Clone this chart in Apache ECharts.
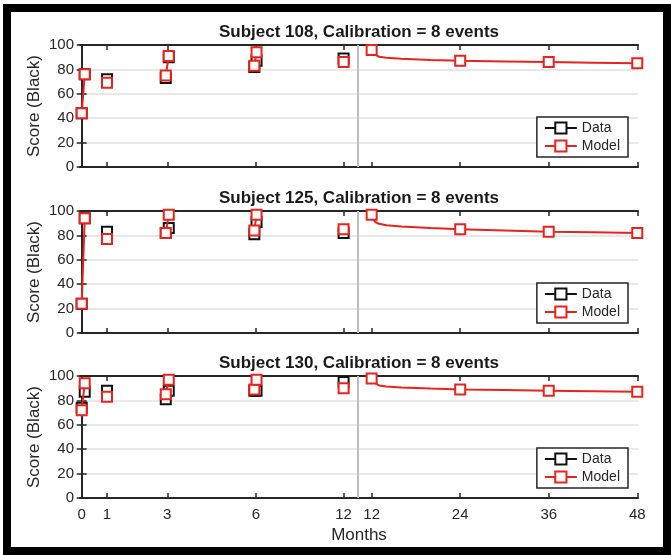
<!DOCTYPE html>
<html>
<head>
<meta charset="utf-8">
<style>
  html, body { margin: 0; padding: 0; background: #fff; }
  #chart { width: 671px; height: 555px; }
</style>
<script src="https://cdn.jsdelivr.net/npm/echarts@6/dist/echarts.min.js"></script>
</head>
<body>
<div id="chart"></div>
<script>
// 数据
const subjects = ['108', '125', '130']
// calibration events (months), two events close together at 0, 3 and 6
const eventMonths = [0, 0.12, 1, 2.95, 3.05, 5.95, 6.05, 12]
const dataScores = [
  [44, 76, 72, 73, 90, 82, 87, 89],
  [24, 94, 83, 82, 86, 81, 91, 82],
  [74, 87, 88, 81, 88, 88, 88, 95]
]
const modelScores = [
  [44, 76, 69, 75, 91, 83, 94, 86],
  [24, 94, 77, 82, 97, 84, 97, 85],
  [72, 94, 83, 85, 97, 89, 97, 90]
]
// model prediction after calibration
const curveMonths = [12, 12.25, 12.5, 13, 14, 16, 20, 24, 30, 36, 42, 48]
const curveScores = [
  [96, 93, 91.5, 90.3, 89.5, 88.8, 87.8, 87, 86.5, 86, 85.5, 85],
  [97, 93, 91, 89.5, 88.3, 87.2, 86, 85, 84, 83, 82.5, 82],
  [98, 95, 93.5, 92.2, 91.3, 90.5, 89.7, 89, 88.5, 88, 87.5, 87]
]
const markerMonths = [12, 24, 36, 48]
const leftTickMonths = [0, 1, 3, 6, 12]
const rightTickMonths = [12, 24, 36, 48]
const yTicks = [0, 20, 40, 60, 80, 100]

// 坐标轴布局 (broken axis: calibration part | prediction part)
const leftTickUnits = [0, 3.43, 11.6, 23.6, 35.5]
const rightOffset = 27.3
const breakUnit = 37.4
const gridTops = [45, 211, 376]
const gridHeight = 122
const red = '#e8231d'
const ink = '#262626'
const font = 'Liberation Sans, Arial, Helvetica, sans-serif'

const leftUnit = (m) => {
  for (let i = 0; i < leftTickMonths.length - 1; i++) {
    const a = leftTickMonths[i]
    const b = leftTickMonths[i + 1]
    if (m <= b) {
      return leftTickUnits[i] + (m - a) / (b - a) * (leftTickUnits[i + 1] - leftTickUnits[i])
    }
  }
  return leftTickUnits[leftTickUnits.length - 1]
}
const rightUnit = (m) => m + rightOffset

const tickUnits = leftTickMonths.map(leftUnit).concat(rightTickMonths.map(rightUnit))
const tickLabels = leftTickMonths.concat(rightTickMonths).map(String)
const labelFor = (v) => {
  const i = tickUnits.findIndex((u) => Math.abs(u - v) < 0.01)
  return i < 0 ? '' : tickLabels[i]
}

const grid = gridTops.map((t) => ({ left: 80, right: 33, top: t, height: gridHeight }))

const xAxis = []
const yAxis = []
gridTops.forEach((t, i) => {
  const base = {
    type: 'value',
    gridIndex: i,
    min: -0.23,
    max: 75.4,
    axisLine: { show: true, onZero: false, lineStyle: { color: ink, width: 2 } },
    axisTick: { show: true, inside: true, length: 5, customValues: tickUnits, lineStyle: { color: ink, width: 1.5 } },
    splitLine: { show: false }
  }
  xAxis.push({
    ...base,
    position: 'bottom',
    axisLabel: { show: i === 2, customValues: tickUnits, formatter: labelFor, margin: 9, fontSize: 15, color: ink, fontFamily: font },
    name: i === 2 ? 'Months' : '',
    nameLocation: 'middle',
    nameGap: 29,
    nameMoveOverlap: false,
    nameTextStyle: { fontSize: 17, color: ink, fontFamily: font }
  })
  xAxis.push({ ...base, position: 'top', axisLabel: { show: false } })

  const yBase = {
    type: 'value',
    gridIndex: i,
    min: 0,
    max: 100,
    interval: 20,
    axisLine: { show: true, lineStyle: { color: ink, width: 2 } },
    axisTick: { show: true, inside: true, length: 5, lineStyle: { color: ink, width: 1.5 } }
  }
  yAxis.push({
    ...yBase,
    position: 'left',
    axisLabel: { margin: 6, fontSize: 15, color: ink, fontFamily: font, customValues: yTicks },
    splitLine: { show: true, lineStyle: { color: '#e0e0e0', width: 1.5 } },
    name: 'Score (Black)',
    nameLocation: 'middle',
    nameGap: 37,
    nameMoveOverlap: false,
    nameTextStyle: { fontSize: 17, color: ink, fontFamily: font }
  })
  yAxis.push({ ...yBase, position: 'right', axisLabel: { show: false }, splitLine: { show: false } })
})

const series = []
gridTops.forEach((t, i) => {
  const axes = { xAxisIndex: i * 2, yAxisIndex: i * 2 }
  // 测量值
  series.push({
    name: 'Data',
    type: 'line',
    ...axes,
    data: eventMonths.map((m, k) => [leftUnit(m), dataScores[i][k]]),
    symbol: 'emptyRect',
    symbolSize: 10,
    itemStyle: { color: '#111', borderWidth: 2 },
    lineStyle: { opacity: 0 },
    z: 2,
    silent: true,
    markLine: {
      silent: true,
      symbol: ['none', 'none'],
      label: { show: false },
      lineStyle: { color: '#bdbdbd', width: 2, type: 'solid' },
      data: [{ xAxis: breakUnit }]
    }
  })
  // 模型 (calibration part, jumps at close events joined)
  const modelLeft = []
  eventMonths.forEach((m, k) => {
    if (k > 0 && m - eventMonths[k - 1] > 0.5) modelLeft.push([leftUnit(m) - 0.5, '-'])
    modelLeft.push([leftUnit(m), modelScores[i][k]])
  })
  series.push({
    name: 'Model',
    type: 'line',
    ...axes,
    data: modelLeft,
    symbol: 'emptyRect',
    symbolSize: 10,
    itemStyle: { color: red, borderWidth: 2 },
    lineStyle: { color: red, width: 2 },
    z: 3,
    silent: true
  })
  // 模型预测
  series.push({
    name: 'Model',
    type: 'line',
    ...axes,
    data: curveMonths.map((m, k) => ({
      value: [rightUnit(m), curveScores[i][k]],
      symbol: markerMonths.includes(m) ? 'emptyRect' : 'none'
    })),
    symbol: 'emptyRect',
    symbolSize: 10,
    itemStyle: { color: red, borderWidth: 2 },
    lineStyle: { color: red, width: 2 },
    z: 3,
    silent: true
  })
})

const title = gridTops.map((t, i) => ({
  text: 'Subject ' + subjects[i] + ', Calibration = 8 events',
  left: 359,
  top: t - 21,
  textAlign: 'center',
  padding: 0,
  textStyle: { fontSize: 17, fontWeight: 'bold', color: '#1a1a1a', fontFamily: font }
}))

const legend = gridTops.map((t) => ({
  orient: 'vertical',
  right: 43,
  top: t + gridHeight - 50,
  data: [
    { name: 'Data', lineStyle: { opacity: 1, width: 2, color: '#111' } },
    { name: 'Model' }
  ],
  itemWidth: 32,
  itemHeight: 14,
  itemGap: 4,
  padding: [4, 8, 4, 7],
  borderColor: ink,
  borderWidth: 1.5,
  borderRadius: 0,
  backgroundColor: '#fff',
  selectedMode: false,
  textStyle: { fontSize: 14, color: ink, fontFamily: font }
}))

const chart = echarts.init(document.getElementById('chart'), null, { renderer: 'canvas' })
chart.setOption({
  animation: false,
  backgroundColor: '#fff',
  textStyle: { fontFamily: font },
  title,
  legend,
  grid,
  xAxis,
  yAxis,
  series,
  graphic: [{
    type: 'rect',
    shape: { x: 7, y: 8, width: 660, height: 543 },
    style: { fill: 'none', stroke: '#000', lineWidth: 8 },
    silent: true,
    z: 100
  }]
})
</script>
</body>
</html>
